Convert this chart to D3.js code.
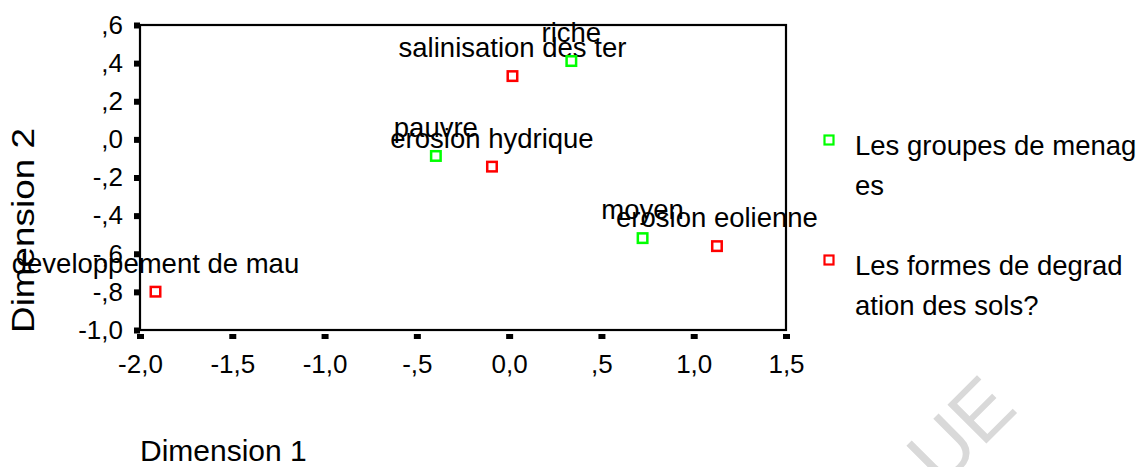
<!DOCTYPE html>
<html>
<head>
<meta charset="utf-8">
<script src="https://cdn.jsdelivr.net/npm/d3@7"></script>
<style>
  html, body { margin: 0; padding: 0; background: #fff; }
  svg { display: block; font-family: "Liberation Sans", Arial, sans-serif; }
</style>
</head>
<body>
<svg id="chart" width="1140" height="467"></svg>
<script>
// ---- data ----
const groupLabels = ["riche", "pauvre", "moyen"];
const groupX = [0.337, -0.397, 0.723];
const groupY = [0.411, -0.087, -0.518];

const formLabels = ["salinisation des ter", "erosion hydrique", "erosion eolienne", "developpement de mau"];
const formX = [0.018, -0.093, 1.126, -1.916];
const formY = [0.332, -0.143, -0.560, -0.799];

const xTicks = [-2.0, -1.5, -1.0, -0.5, 0.0, 0.5, 1.0, 1.5];
const xTickLabels = ["-2,0", "-1,5", "-1,0", "-,5", "0,0", ",5", "1,0", "1,5"];
const yTicks = [0.6, 0.4, 0.2, 0.0, -0.2, -0.4, -0.6, -0.8, -1.0];
const yTickLabels = [",6", ",4", ",2", ",0", "-,2", "-,4", "-,6", "-,8", "-1,0"];

const legendLabels = [["Les groupes de menag", "es"], ["Les formes de degrad", "ation des sols?"]];
const seriesColors = ["#00ff00", "#ff0000"];

// ---- layout ----
(function () {
const svg = d3.select("#chart");
const pLeft = 140, pRight = 786, pTop = 25, pBottom = 330;
const x = d3.scaleLinear().domain([-2, 1.5]).range([pLeft, pRight]);
const y = d3.scaleLinear().domain([-1, 0.6]).range([pBottom, pTop]);

// watermark
svg.append("text")
  .attr("transform", "translate(941,489) rotate(-45)")
  .attr("font-size", 80)
  .attr("fill", "#d9d9d9")
  .text("UE");

// frame
svg.append("rect")
  .attr("x", pLeft).attr("y", pTop)
  .attr("width", pRight - pLeft).attr("height", pBottom - pTop)
  .attr("fill", "none").attr("stroke", "#000").attr("stroke-width", 2.2);

// y axis
const yAxis = d3.axisLeft(y).tickValues(yTicks)
  .tickFormat((d, i) => yTickLabels[i]).tickSize(6).tickPadding(11);
const gy = svg.append("g").attr("transform", `translate(${pLeft},0)`).call(yAxis);
gy.select(".domain").remove();
gy.selectAll(".tick line").attr("stroke", "#000").attr("stroke-width", 6);
gy.selectAll(".tick text").attr("font-size", 26).attr("fill", "#000")
  .attr("font-family", "Liberation Sans, Arial, sans-serif");

// x axis
const xAxis = d3.axisBottom(x).tickValues(xTicks)
  .tickFormat((d, i) => xTickLabels[i]).tickSize(0);
const gx = svg.append("g").attr("transform", `translate(0,${pBottom})`).call(xAxis);
gx.select(".domain").remove();
gx.selectAll(".tick line").attr("y1", 4).attr("y2", 9).attr("stroke", "#000").attr("stroke-width", 7);
gx.selectAll(".tick text").attr("font-size", 26).attr("fill", "#000")
  .attr("font-family", "Liberation Sans, Arial, sans-serif")
  .attr("dy", null).attr("y", 43);

// points
const sq = 9.5;
function drawSeries(xs, ys, labels, color) {
  const g = svg.append("g");
  g.selectAll("rect").data(xs).join("rect")
    .attr("x", (d) => x(d) - sq / 2)
    .attr("y", (d, i) => y(ys[i]) - sq / 2)
    .attr("width", sq).attr("height", sq)
    .attr("fill", "none").attr("stroke", color).attr("stroke-width", 2.5);
  g.selectAll("text").data(xs).join("text")
    .attr("x", (d) => x(d))
    .attr("y", (d, i) => y(ys[i]) - 19)
    .attr("text-anchor", "middle")
    .attr("font-size", 27.5).attr("fill", "#000")
    .text((d, i) => labels[i]);
}
drawSeries(formX, formY, formLabels, seriesColors[1]);
drawSeries(groupX, groupY, groupLabels, seriesColors[0]);

// axis titles
svg.append("text").attr("x", 140).attr("y", 461).attr("font-size", 30)
  .attr("fill", "#000").text("Dimension 1");
svg.append("text").attr("transform", "translate(34,333) rotate(-90)")
  .attr("font-size", 31).attr("fill", "#000")
  .attr("textLength", 205).attr("lengthAdjust", "spacingAndGlyphs")
  .text("Dimension 2");

// legend
const lg = svg.append("g");
const legendY = [155, 275];
legendLabels.forEach((lines, i) => {
  lg.append("rect").attr("x", 829 - 4.5).attr("y", legendY[i] - 15 - 4.5)
    .attr("width", 9).attr("height", 9)
    .attr("fill", "none").attr("stroke", seriesColors[i]).attr("stroke-width", 2.2);
  lines.forEach((t, j) => {
    lg.append("text").attr("x", 855).attr("y", legendY[i] + j * 40)
      .attr("font-size", 27.5).attr("fill", "#000").text(t);
  });
});
})();
</script>
</body>
</html>
